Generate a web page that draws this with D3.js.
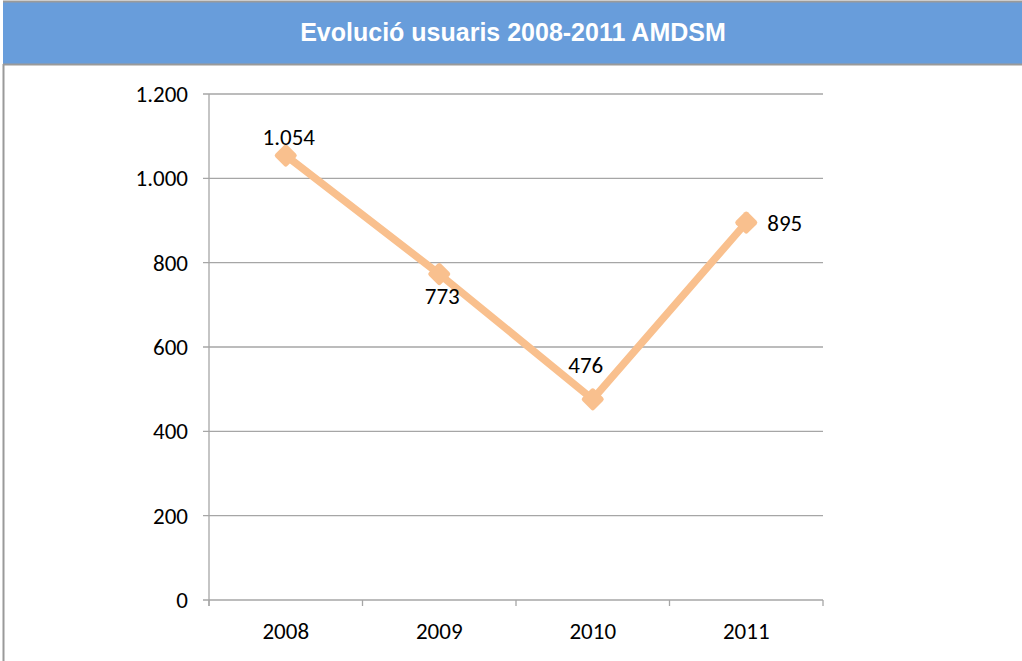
<!DOCTYPE html>
<html><head><meta charset="utf-8">
<script src="https://cdn.jsdelivr.net/npm/d3@7"></script>
<style>body{margin:0;background:#fff}svg{display:block}</style>
</head><body>
<script>
const title = "Evolució usuaris 2008-2011 AMDSM";
const categories = ["2008","2009","2010","2011"];
const values = [1054, 773, 476, 895];
const valueLabels = ["1.054","773","476","895"];
const labelPos = ["above","below","above","right"];
const yTicks = [0,200,400,600,800,1000,1200];
const yTickLabels = ["0","200","400","600","800","1.000","1.200"];

(function(){
const W = 1022, H = 661;
const svg = d3.select("body").append("svg").attr("width", W).attr("height", H);

// header
svg.append("rect").attr("x",3).attr("y",1.5).attr("width",W-3).attr("height",63).attr("fill","#689ddb");
svg.append("line").attr("x1",3).attr("x2",W).attr("y1",1.5).attr("y2",1.5).attr("stroke","#9a9a9a").attr("stroke-width",2);
svg.append("line").attr("x1",3).attr("x2",W).attr("y1",64.5).attr("y2",64.5).attr("stroke","#9a9a9a").attr("stroke-width",2);
svg.append("line").attr("x1",3.5).attr("x2",3.5).attr("y1",64).attr("y2",H).attr("stroke","#9a9a9a").attr("stroke-width",2);
svg.append("text").attr("x",513).attr("y",41).attr("text-anchor","middle")
  .attr("font-family","Liberation Sans, Arial, sans-serif").attr("font-weight","bold")
  .attr("font-size",25).attr("fill","#fff").text(title);

const pL = 209, pR = 823, pT = 94, pB = 600;
const x = d3.scaleBand().domain(categories).range([pL, pR]);
const y = d3.scaleLinear().domain([0,1200]).range([pB, pT]);

const g = svg.append("g");
g.selectAll("line.grid").data(yTicks).join("line")
  .attr("x1", pL-6).attr("x2", pR).attr("y1", d=>y(d)).attr("y2", d=>y(d))
  .attr("stroke","#a6a6a6").attr("stroke-width",1.3);
g.append("line").attr("x1",pL).attr("x2",pL).attr("y1",pT).attr("y2",pB+6)
  .attr("stroke","#a6a6a6").attr("stroke-width",1.3);
const xt = categories.map(c=>x(c)).concat([pR]);
g.selectAll("line.xt").data(xt).join("line")
  .attr("x1",d=>d).attr("x2",d=>d).attr("y1",pB).attr("y2",pB+6)
  .attr("stroke","#a6a6a6").attr("stroke-width",1.3);

const font = "Carlito, Open Sans, Liberation Sans, sans-serif";
const fs = 23;
g.selectAll("text.yl").data(yTicks).join("text")
  .attr("x", pL-21).attr("y", d=>y(d)+8).attr("text-anchor","end")
  .attr("font-family",font).attr("font-size",fs).attr("fill","#000")
  .text((d,i)=>yTickLabels[i]);
g.selectAll("text.xl").data(categories).join("text")
  .attr("x", d=>x(d)+x.bandwidth()/2).attr("y", pB+39).attr("text-anchor","middle")
  .attr("font-family",font).attr("font-size",fs).attr("fill","#000")
  .text(d=>d);

const cx = (d,i)=>x(categories[i])+x.bandwidth()/2;
const line = d3.line().x((d,i)=>cx(d,i)).y(d=>y(d));
g.append("path").datum(values).attr("d",line).attr("fill","none")
  .attr("stroke","#f9c08e").attr("stroke-width",7.5).attr("stroke-linejoin","round");
g.selectAll("rect.m").data(values).join("rect")
  .attr("x",-8.5).attr("y",-8.5).attr("width",17).attr("height",17).attr("rx",2.5)
  .attr("fill","#f9c08e")
  .attr("transform",(d,i)=>`translate(${cx(d,i)},${y(d)}) rotate(45)`);

const offs = {above:[3,-11], below:[3,30], right:[21,8]};
const offs476 = [-7,-26];
g.selectAll("text.v").data(values).join("text")
  .attr("x",(d,i)=> cx(d,i) + (i===2 ? offs476[0] : offs[labelPos[i]][0]))
  .attr("y",(d,i)=> y(d) + (i===2 ? offs476[1] : offs[labelPos[i]][1]))
  .attr("text-anchor",(d,i)=> labelPos[i]==="right" ? "start" : "middle")
  .attr("font-family",font).attr("font-size",fs).attr("fill","#000")
  .text((d,i)=>valueLabels[i]);
})();
</script>
</body></html>
